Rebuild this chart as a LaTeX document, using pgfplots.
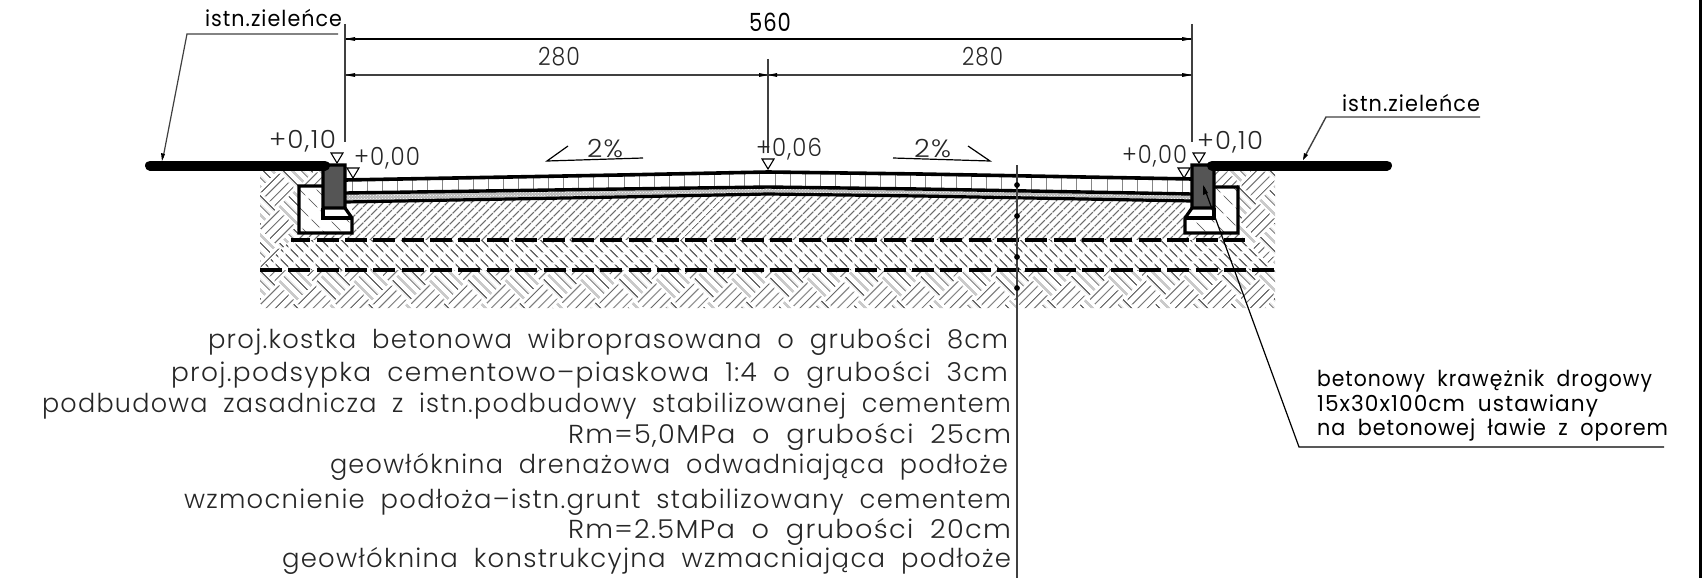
\documentclass[border=0pt]{standalone}
\usepackage{fontspec}
\usepackage{graphicx}
\usepackage{pgfplots}
\pgfplotsset{compat=1.18}
\usetikzlibrary{patterns,patterns.meta}
\setmainfont{Poppins}[UprightFont=* Light,WordSpace=1.9,LetterSpace=5]
\newfontfamily\reg{Poppins}[WordSpace=1.9,LetterSpace=5]
\definecolor{hatch}{HTML}{6a6a6a}
\definecolor{paver}{HTML}{858585}
\definecolor{dim}{HTML}{404040}
\definecolor{curb}{HTML}{555555}
\pgfdeclarepattern{name=parquet,type=uncolored,
  bottom left={\pgfpointorigin},top right={\pgfpoint{54pt}{54pt}},
  tile size={\pgfpoint{54pt}{54pt}},
  tile transformation={\pgftransformrotate{45}},
  code={\pgfsetlinewidth{1.2pt}
    \foreach \k in {3.4,10.1,16.9,23.6}{
      \pgfpathmoveto{\pgfpoint{0pt}{\k pt}}\pgfpathlineto{\pgfpoint{27pt}{\k pt}}
      \pgfpathmoveto{\pgfpoint{27pt}{\k pt+27pt}}\pgfpathlineto{\pgfpoint{54pt}{\k pt+27pt}}
      \pgfpathmoveto{\pgfpoint{\k pt+27pt}{0pt}}\pgfpathlineto{\pgfpoint{\k pt+27pt}{27pt}}
      \pgfpathmoveto{\pgfpoint{\k pt}{27pt}}\pgfpathlineto{\pgfpoint{\k pt}{54pt}}
    }
    \pgfusepath{stroke}}}
\pgfdeclarepattern{name=fineh,type=uncolored,
  bottom left={\pgfpointorigin},top right={\pgfpoint{10pt}{5.3pt}},
  tile size={\pgfpoint{10pt}{5.3pt}},
  tile transformation={\pgftransformrotate{45}},
  code={\pgfsetlinewidth{1.2pt}
    \pgfpathmoveto{\pgfpoint{0pt}{2.65pt}}\pgfpathlineto{\pgfpoint{10pt}{2.65pt}}
    \pgfusepath{stroke}}}
\pgfdeclarepattern{name=dashh,type=uncolored,
  bottom left={\pgfpointorigin},top right={\pgfpoint{14pt}{7pt}},
  tile size={\pgfpoint{14pt}{7pt}},
  tile transformation={\pgftransformrotate{-45}},
  code={\pgfsetlinewidth{1.3pt}
    \pgfpathmoveto{\pgfpoint{1pt}{3.5pt}}\pgfpathlineto{\pgfpoint{12pt}{3.5pt}}
    \pgfusepath{stroke}}}
\pgfdeclarepattern{name=dashb,type=uncolored,
  bottom left={\pgfpointorigin},top right={\pgfpoint{17pt}{13pt}},
  tile size={\pgfpoint{17pt}{13pt}},
  tile transformation={\pgftransformrotate{-45}},
  code={\pgfsetlinewidth{1.1pt}
    \pgfpathmoveto{\pgfpoint{1pt}{6.5pt}}\pgfpathlineto{\pgfpoint{14pt}{6.5pt}}
    \pgfusepath{stroke}}}
% #1 left x, #2 right x, #3 baseline y, #4 colour, #5 text
\newcommand\T[5]{\node[anchor=base west,inner sep=0pt,outer sep=0pt,text=#4] at (axis cs:#1,#3)
  {\resizebox{\dimexpr#2pt-#1pt\relax}{\height}{#5}};}
\begin{document}
\begin{tikzpicture}
\useasboundingbox (0,0) rectangle (1704pt,578pt);
\begin{axis}[scale only axis,width=1704pt,height=578pt,xmin=0,xmax=1704,ymin=0,ymax=578,y dir=reverse,hide axis,
  anchor=south west,at={(0,0)},unbounded coords=jump]
% ground hatch
\addplot[draw=none,pattern=parquet,pattern color=hatch] coordinates {(260,171)(323,171)(323,186)(299,186)(299,233)(291,240)(1245,240)(1238,233)(1238,187)(1214,187)(1214,171)(1275,171)(1275,308)(260,308)} -- cycle;
% stabilised base
\addplot[draw=none,pattern=fineh,pattern color=hatch] coordinates {(352,201)(768,194)(1185,201)(1185,233)(1238,233)(1245,240)(291,240)(299,233)(352,233)} -- cycle;
% improved subgrade
\addplot[fill=white,draw=none] coordinates {(291,240)(1245,240)(1275,270)(260,270)} -- cycle;
\addplot[draw=none,pattern=dashh,pattern color=hatch] coordinates {(291,240)(1245,240)(1275,270)(260,270)} -- cycle;
% pavers
\addplot[paver,line width=1pt] coordinates {
(352,180)(352,193)(352,nan)(367,180)(367,193)(367,nan)(382,179)(382,192)(382,nan)(397,179)(397,192)(397,nan)
(412,179)(412,192)(412,nan)(427,178)(427,192)(427,nan)(442,178)(442,192)(442,nan)(458,178)(458,191)(458,nan)
(473,178)(473,191)(473,nan)(488,177)(488,191)(488,nan)(503,177)(503,191)(503,nan)(518,177)(518,191)(518,nan)
(533,176)(533,190)(533,nan)(548,176)(548,190)(548,nan)(563,176)(563,190)(563,nan)(578,176)(578,190)(578,nan)
(593,175)(593,189)(593,nan)(608,175)(608,189)(608,nan)(624,175)(624,189)(624,nan)(639,174)(639,189)(639,nan)
(654,174)(654,189)(654,nan)(669,174)(669,188)(669,nan)(684,174)(684,188)(684,nan)(699,173)(699,188)(699,nan)
(714,173)(714,188)(714,nan)(729,173)(729,188)(729,nan)(744,172)(744,187)(744,nan)(759,172)(759,187)(759,nan)
(775,172)(775,187)(775,nan)(790,172)(790,187)(790,nan)(805,173)(805,188)(805,nan)(820,173)(820,188)(820,nan)
(835,173)(835,188)(835,nan)(850,173)(850,188)(850,nan)(865,174)(865,189)(865,nan)(880,174)(880,189)(880,nan)
(895,174)(895,189)(895,nan)(910,174)(910,189)(910,nan)(925,175)(925,190)(925,nan)(941,175)(941,190)(941,nan)
(956,175)(956,190)(956,nan)(971,175)(971,190)(971,nan)(986,176)(986,191)(986,nan)(1001,176)(1001,191)(1001,nan)
(1016,176)(1016,191)(1016,nan)(1031,176)(1031,191)(1031,nan)(1046,177)(1046,192)(1046,nan)(1061,177)(1061,192)(1061,nan)
(1076,177)(1076,192)(1076,nan)(1091,177)(1091,192)(1091,nan)(1107,178)(1107,193)(1107,nan)(1122,178)(1122,193)(1122,nan)
(1137,178)(1137,193)(1137,nan)(1152,178)(1152,193)(1152,nan)(1167,179)(1167,194)(1167,nan)(1182,179)(1182,194)
};
% bedding
\addplot[fill=gray!55,draw=none] coordinates {(345,193)(768,187)(1192,194)(1192,201)(768,194)(345,202)} -- cycle;
\addplot[draw=none,pattern=crosshatch dots,pattern color=white] coordinates {(345,193)(768,187)(1192,194)(1192,201)(768,194)(345,202)} -- cycle;
% layer lines
\addplot[black,line width=3.6pt] coordinates {(345,180)(620,175)(768,172)(920,174)(1192,179)};
\addplot[black,line width=3.4pt] coordinates {(345,193)(620,189)(768,187)(920,189)(1192,194)};
\addplot[black,line width=3.2pt] coordinates {(345,202)(620,197)(768,194)(920,196)(1192,201)};
% geotextile lines
\addplot[black,line width=3.5pt,dash pattern=on 22pt off 6.35pt,dash phase=2.7pt] coordinates {(291,240)(1245,240)};
\addplot[black,line width=3.5pt,dash pattern=on 22pt off 6.35pt] coordinates {(260,270)(1275,270)};
% benches
\addplot[fill=white,draw=none] coordinates {(299,186)(323,186)(323,218)(352,218)(352,233)(299,233)} -- cycle;
\addplot[draw=none,pattern=dashb,pattern color=hatch] coordinates {(299,186)(323,186)(323,218)(352,218)(352,233)(299,233)} -- cycle;
\addplot[black,line width=3.2pt] coordinates {(323,186)(299,186)(299,233)(352,233)(352,218)(345,208)};
\addplot[black,line width=3.2pt] coordinates {(323,208)(323,218)(352,218)};
\addplot[fill=white,draw=none] coordinates {(1238,187)(1214,187)(1214,218)(1185,218)(1185,233)(1238,233)} -- cycle;
\addplot[draw=none,pattern=dashb,pattern color=hatch] coordinates {(1238,187)(1214,187)(1214,218)(1185,218)(1185,233)(1238,233)} -- cycle;
\addplot[black,line width=3.2pt] coordinates {(1214,187)(1238,187)(1238,233)(1185,233)(1185,218)(1192,208)};
\addplot[black,line width=3.2pt] coordinates {(1214,208)(1214,218)(1185,218)};
% curbs
\addplot[fill=curb,draw=black,line width=3.2pt] coordinates {(323,170)(328,165)(345,165)(345,208)(323,208)} -- cycle;
\addplot[fill=curb,draw=black,line width=3.2pt] coordinates {(1214,170)(1209,165)(1192,165)(1192,208)(1214,208)} -- cycle;
% existing green
\addplot[black,line width=10pt,line cap=round] coordinates {(150,165.5)(325,165.5)};
\addplot[black,line width=10pt,line cap=round] coordinates {(1212,165.5)(1387,165.5)};
% dimension lines
\addplot[black,line width=1.4pt] coordinates {(345,39)(1192,39)};
\addplot[dim,line width=1.6pt] coordinates {(345,75)(1192,75)};
\addplot[dim,line width=1.5pt] coordinates {(345,24)(345,142)};
\addplot[dim,line width=1.5pt] coordinates {(1192,24)(1192,142)};
\addplot[dim,line width=1.5pt] coordinates {(768,59)(768,153)};
\addplot[fill=black,draw=none] coordinates {(345,39)(355,37)(355,41)} -- cycle;
\addplot[fill=black,draw=none] coordinates {(1192,39)(1182,37)(1182,41)} -- cycle;
\addplot[fill=black,draw=none] coordinates {(345,75)(355,73)(355,77)} -- cycle;
\addplot[fill=black,draw=none] coordinates {(1192,75)(1182,73)(1182,77)} -- cycle;
\addplot[fill=black,draw=none] coordinates {(768,75)(759,73)(759,77)} -- cycle;
\addplot[fill=black,draw=none] coordinates {(768,75)(777,73)(777,77)} -- cycle;
% level triangles
\addplot[fill=white,draw=black,line width=1.1pt] coordinates {(331,153)(343,153)(337,163)} -- cycle;
\addplot[fill=white,draw=black,line width=1.1pt] coordinates {(347,168)(359,168)(353,178)} -- cycle;
\addplot[fill=white,draw=black,line width=1.1pt] coordinates {(762,159)(774,159)(768,169)} -- cycle;
\addplot[fill=white,draw=black,line width=1.1pt] coordinates {(1193,153)(1205,153)(1199,163)} -- cycle;
\addplot[fill=white,draw=black,line width=1.1pt] coordinates {(1178,168)(1190,168)(1184,178)} -- cycle;
% slope marks
\addplot[black,line width=1.2pt] coordinates {(568,146)(547,161)(643,158)};
\addplot[black,line width=1.2pt] coordinates {(893,158)(990,161)(968,146)};
% leaders
\addplot[dim,line width=1.2pt] coordinates {(338,34)(187,34)(163,158)};
\addplot[fill=black,draw=none] coordinates {(162,161)(161,153)(165,154)} -- cycle;
\addplot[dim,line width=1.4pt] coordinates {(1480,117)(1326,117)(1304,158)};
\addplot[fill=black,draw=none] coordinates {(1303,160)(1304,153)(1308,155)} -- cycle;
\addplot[black,line width=1.2pt] coordinates {(1664,447)(1299,447)(1204,187)};
\addplot[fill=black,draw=none] coordinates {(1203,185)(1203,195)(1208,193)} -- cycle;
% section line and frame
\addplot[dim,line width=1.6pt] coordinates {(1017,165)(1017,578)};
\addplot[only marks,mark=*,mark size=2.6pt,mark options={fill=black,draw=black}] coordinates {(1017,185)(1017,216)(1017,257)(1017,288)};
\addplot[black,line width=3pt] coordinates {(1700,0)(1700,578)};
% texts
\T{205}{342}{27}{black}{\fontsize{22}{22}\reg istn.zieleńce}
\T{1342}{1480}{111}{black}{\fontsize{22}{22}\reg istn.zieleńce}
\T{749}{791}{32}{black}{\fontsize{25}{25}\reg 560}
\T{538}{580}{66}{black!85}{\fontsize{25}{25}\selectfont 280}
\T{962}{1003}{66}{black!85}{\fontsize{25}{25}\selectfont 280}
\T{587}{623}{157}{black!85}{\fontsize{25}{25}\selectfont 2\%}
\T{914}{951}{157}{black!85}{\fontsize{25}{25}\selectfont 2\%}
\T{269}{336}{148}{black!85}{\fontsize{25}{25}\selectfont +0,10}
\T{354}{420}{165}{black!85}{\fontsize{25}{25}\selectfont +0,00}
\T{756}{822}{156}{black!85}{\fontsize{25}{25}\selectfont +0,06}
\T{1197}{1263}{149}{black!85}{\fontsize{25}{25}\selectfont +0,10}
\T{1122}{1187}{163}{black!85}{\fontsize{25}{25}\selectfont +0,00}
\T{208}{1008}{348}{black!85}{\fontsize{26}{26}\selectfont proj.kostka betonowa wibroprasowana o grubości 8cm}
\T{171}{1008}{381}{black!85}{\fontsize{26}{26}\selectfont proj.podsypka cementowo–piaskowa 1:4 o grubości 3cm}
\T{42}{1011}{412}{black!85}{\fontsize{26}{26}\selectfont podbudowa zasadnicza z istn.podbudowy stabilizowanej cementem}
\T{568}{1011}{443}{black!85}{\fontsize{26}{26}\selectfont Rm=5,0MPa o grubości 25cm}
\T{330}{1008}{473}{black!85}{\fontsize{26}{26}\selectfont geowłóknina drenażowa odwadniająca podłoże}
\T{184}{1011}{508}{black!85}{\fontsize{26}{26}\selectfont wzmocnienie podłoża–istn.grunt stabilizowany cementem}
\T{568}{1011}{538}{black!85}{\fontsize{26}{26}\selectfont Rm=2.5MPa o grubości 20cm}
\T{282}{1011}{567}{black!85}{\fontsize{26}{26}\selectfont geowłóknina konstrukcyjna wzmacniająca podłoże}
\T{1317}{1652}{386.7}{black}{\fontsize{22}{22}\reg betonowy krawężnik drogowy}
\T{1317}{1598}{411}{black}{\fontsize{22}{22}\reg 15x30x100cm ustawiany}
\T{1317}{1668}{435.7}{black}{\fontsize{22}{22}\reg na betonowej ławie z oporem}
\end{axis}
\end{tikzpicture}
\end{document}
